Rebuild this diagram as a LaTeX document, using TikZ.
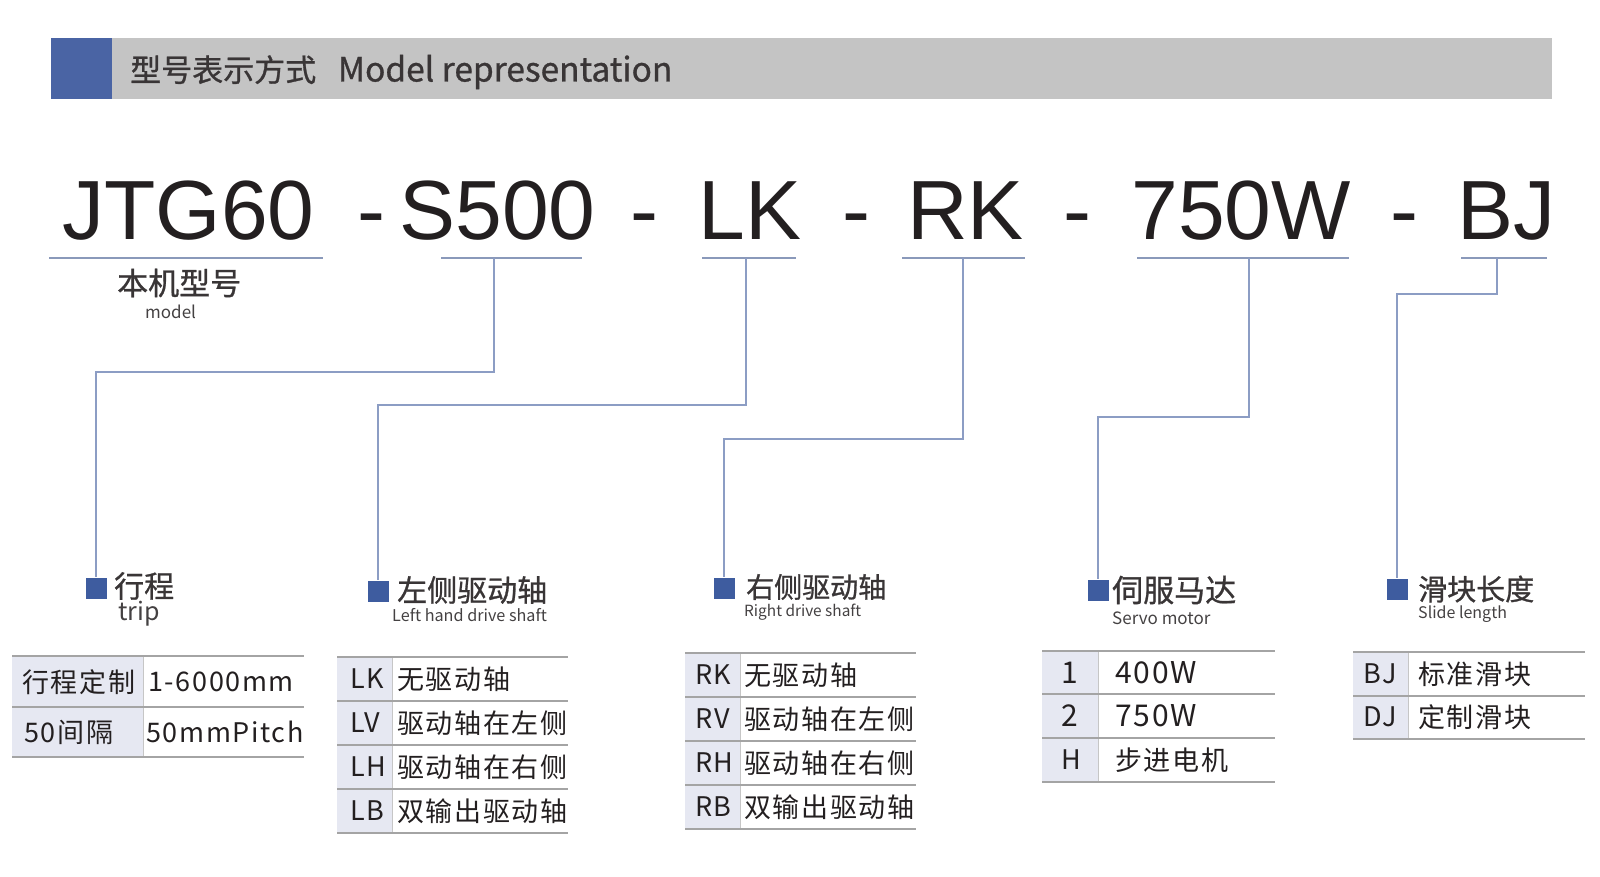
\documentclass[tikz,border=0pt]{standalone}
\usepackage{fontspec}
\setmainfont{Noto Sans CJK SC}
\newfontfamily\codefont{Liberation Sans}
\newfontfamily\tabfont[LetterSpace=6]{Noto Sans CJK SC}
\newfontfamily\medfont[FakeBold=0.9]{Noto Sans CJK SC}
\usetikzlibrary{positioning}
\definecolor{headgrey}{HTML}{C4C4C4}
\definecolor{headblue}{HTML}{4A64A4}
\definecolor{markblue}{HTML}{3E5C9F}
\definecolor{linkblue}{HTML}{8C9DC4}
\definecolor{rulegrey}{HTML}{A4A4A4}
\definecolor{cellblue}{HTML}{E6E8F2}
\definecolor{textdark}{HTML}{231F20}
\tikzset{code/.style = {font=\codefont\fontsize{84}{90}\selectfont, text=textdark, anchor=base, inner sep=0}}
\tikzset{head/.style = {font=\medfont\fontsize{31}{36}\selectfont, text=textdark!90, anchor=west, inner sep=0}}
\tikzset{cnname/.style = {font=\medfont\fontsize{30}{34}\selectfont, text=textdark!90, anchor=west, inner sep=0}}
\tikzset{enname/.style = {font=\fontsize{17}{20}\selectfont, text=textdark!85, anchor=west, inner sep=0}}
\tikzset{cell/.style = {font=\tabfont\fontsize{27}{30}\selectfont, text=textdark, anchor=west, inner sep=0}}
\tikzset{sqmark/.style = {fill=markblue, minimum size=21pt, inner sep=0}}
\tikzset{link/.style = {draw=linkblue, line width=1.4pt}}
\tikzset{uline/.style = {draw=linkblue!85!gray, line width=1.6pt}}
\tikzset{rule/.style = {draw=rulegrey, line width=1.8pt}}
\tikzset{sep/.style = {draw=gray!45, line width=0.8pt}}

\begin{document}
\begin{tikzpicture}[x=1pt, y=-1pt]
        \useasboundingbox (0,0) rectangle (1600,877);
        \fill[headgrey] (51,38) rectangle (1552,99);
        \fill[headblue] (51,38) rectangle (112,99);
        \node[head] (heading) at (130,72) {型号表示方式\hspace{0.7em}{\fontsize{33.5}{36}\selectfont Model representation}};

        \node[code] (JTGsixty) at (188.5,240) {JTG60};
        \node[code] (dashA) at (371,240) {-};
        \node[code] (Sfivehundred) at (497.5,240) {S500};
        \node[code] (dashB) at (644,240) {-};
        \node[code] (LKcode) at (750,240) {LK};
        \node[code] (dashC) at (856,240) {-};
        \node[code] (RKcode) at (965.5,240) {RK};
        \node[code] (dashD) at (1077.5,240) {-};
        \node[code] (Wcode) at (1241,240) {750W};
        \node[code] (dashE) at (1404,240) {-};
        \node[code] (BJcode) at (1506.5,240) {BJ};

        \draw[uline] (49,258) -- (323,258);
        \draw[uline] (441,258) -- (582,258);
        \draw[uline] (702,258) -- (796,258);
        \draw[uline] (902,258) -- (1025,258);
        \draw[uline] (1137,258) -- (1349,258);
        \draw[uline] (1461,258) -- (1547,258);
        \coordinate (Sjoint) at (494,258);
        \coordinate (LKjoint) at (746,258);
        \coordinate (RKjoint) at (963,258);
        \coordinate (Wjoint) at (1249,258);
        \coordinate (BJjoint) at (1497,258);

        \node[head] (model) at (117,283) {本机型号};
        \node[enname] (modelEn) at (145,312) {model};

        \node[sqmark] (tripMark) at (96,588) {};
        \node[sqmark] (leftMark) at (378,591) {};
        \node[sqmark] (rightMark) at (724,588) {};
        \node[sqmark] (motorMark) at (1098,590) {};
        \node[sqmark] (slideMark) at (1397,589) {};

        \draw[link] (Sjoint) -- ++(0,114) -| (tripMark);
        \draw[link] (LKjoint) -- ++(0,147) -| (leftMark);
        \draw[link] (RKjoint) -- ++(0,181) -| (rightMark);
        \draw[link] (Wjoint) -- ++(0,159) -| (motorMark);
        \draw[link] (BJjoint) -- ++(0,36) -| (slideMark);

        \node[cnname] (trip) at (114,586) {行程};
        \node[enname, font=\fontsize{25}{28}\selectfont] (tripEn) at (118,614) {trip};
        \node[cnname] (leftShaft) at (397,590) {左侧驱动轴};
        \node[enname, font=\fontsize{16.2}{19}\selectfont] (leftShaftEn) at (392,615) {Left hand drive shaft};
        \node[cnname, font=\medfont\fontsize{28}{32}\selectfont] (rightShaft) at (746,587) {右侧驱动轴};
        \node[enname, font=\fontsize{15.4}{18}\selectfont] (rightShaftEn) at (744,612) {Right drive shaft};
        \node[cnname, font=\medfont\fontsize{31}{34}\selectfont] (servo) at (1112,590) {伺服马达};
        \node[enname] (servoEn) at (1112,618) {Servo motor};
        \node[cnname, font=\medfont\fontsize{29}{32}\selectfont] (slide) at (1418,589) {滑块长度};
        \node[enname, font=\fontsize{16}{19}\selectfont] (slideEn) at (1418,614) {Slide length};

        \fill[cellblue] (12,656) rectangle (143,757);
        \draw[sep] (143,656) -- (143,757);
        \draw[rule] (12,656) -- (304,656);
        \draw[rule] (12,707) -- (304,707);
        \draw[rule] (12,757) -- (304,757);
        \node[cell] (custom) at (22,682) {行程定制};
        \node[cell] (customVal) at (148,682) {1-6000mm};
        \node[cell] (pitch) at (24,732) {50间隔};
        \node[cell] (pitchVal) at (146,732) {50mmPitch};

        \fill[cellblue] (337,657) rectangle (392,833);
        \draw[sep] (392,657) -- (392,833);
        \draw[rule] (337,657) -- (568,657);
        \draw[rule] (337,701) -- (568,701);
        \draw[rule] (337,745) -- (568,745);
        \draw[rule] (337,789) -- (568,789);
        \draw[rule] (337,833) -- (568,833);
        \node[cell] (LK) at (350,679) {LK};
        \node[cell] (LKtext) at (397,679) {无驱动轴};
        \node[cell] (LV) at (350,723) {LV};
        \node[cell] (LVtext) at (397,723) {驱动轴在左侧};
        \node[cell] (LH) at (350,767) {LH};
        \node[cell] (LHtext) at (397,767) {驱动轴在右侧};
        \node[cell] (LB) at (350,811) {LB};
        \node[cell] (LBtext) at (397,811) {双输出驱动轴};

        \fill[cellblue] (685,653) rectangle (740,829);
        \draw[sep] (740,653) -- (740,829);
        \draw[rule] (685,653) -- (916,653);
        \draw[rule] (685,697) -- (916,697);
        \draw[rule] (685,741) -- (916,741);
        \draw[rule] (685,785) -- (916,785);
        \draw[rule] (685,829) -- (916,829);
        \node[cell] (RK) at (695,675) {RK};
        \node[cell] (RKtext) at (744,675) {无驱动轴};
        \node[cell] (RV) at (695,719) {RV};
        \node[cell] (RVtext) at (744,719) {驱动轴在左侧};
        \node[cell] (RH) at (695,763) {RH};
        \node[cell] (RHtext) at (744,763) {驱动轴在右侧};
        \node[cell] (RB) at (695,807) {RB};
        \node[cell] (RBtext) at (744,807) {双输出驱动轴};

        \fill[cellblue] (1042,651) rectangle (1098,782);
        \draw[sep] (1098,651) -- (1098,782);
        \draw[rule] (1042,651) -- (1275,651);
        \draw[rule] (1042,694) -- (1275,694);
        \draw[rule] (1042,738) -- (1275,738);
        \draw[rule] (1042,782) -- (1275,782);
        \node[cell, font=\tabfont\fontsize{30}{33}\selectfont] (one) at (1061,673) {1};
        \node[cell, font=\tabfont\fontsize{30}{33}\selectfont] (fourW) at (1115,673) {400W};
        \node[cell, font=\tabfont\fontsize{30}{33}\selectfont] (two) at (1061,716) {2};
        \node[cell, font=\tabfont\fontsize{30}{33}\selectfont] (sevenW) at (1115,716) {750W};
        \node[cell] (H) at (1061,760) {H};
        \node[cell] (stepper) at (1115,760) {步进电机};

        \fill[cellblue] (1353,652) rectangle (1408,739);
        \draw[sep] (1408,652) -- (1408,739);
        \draw[rule] (1353,652) -- (1585,652);
        \draw[rule] (1353,696) -- (1585,696);
        \draw[rule] (1353,739) -- (1585,739);
        \node[cell] (BJ) at (1363,674) {BJ};
        \node[cell] (BJtext) at (1418,674) {标准滑块};
        \node[cell] (DJ) at (1363,717) {DJ};
        \node[cell] (DJtext) at (1418,717) {定制滑块};
\end{tikzpicture}
\end{document}
